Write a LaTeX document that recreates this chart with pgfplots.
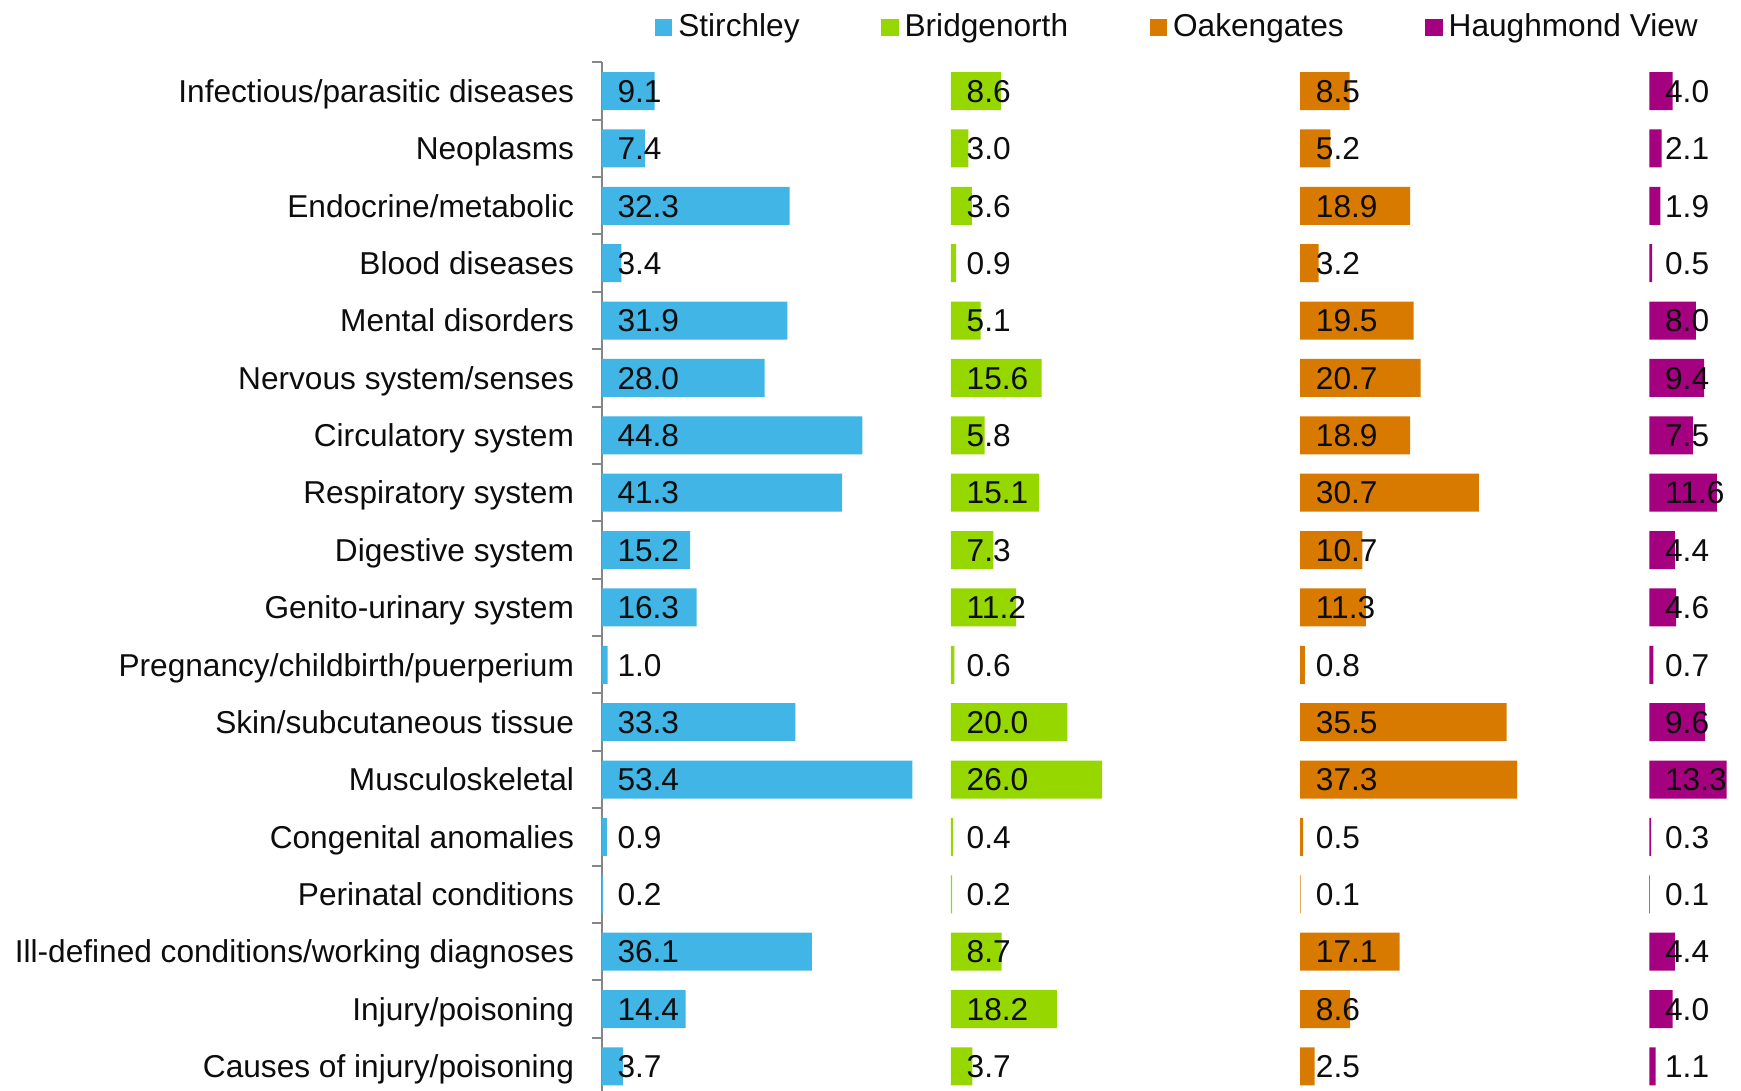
\documentclass[border=0pt]{standalone}
\usepackage{fontspec}
\setmainfont{Liberation Sans}
\usepackage{pgfplots}
\usepackage{pgfplotstable}
\pgfplotsset{compat=1.18}

\definecolor{stir}{RGB}{65,182,230}
\definecolor{brid}{RGB}{151,215,0}
\definecolor{oake}{RGB}{217,122,0}
\definecolor{haug}{RGB}{165,0,128}
\definecolor{axgray}{RGB}{134,134,134}
\definecolor{txt}{RGB}{13,13,13}

% rows top to bottom: Stirchley, Bridgenorth, Oakengates, Haughmond View
\pgfplotstableread{
y  s     b     o     h
1  9.1   8.6   8.5   4.0
2  7.4   3.0   5.2   2.1
3  32.3  3.6   18.9  1.9
4  3.4   0.9   3.2   0.5
5  31.9  5.1   19.5  8.0
6  28.0  15.6  20.7  9.4
7  44.8  5.8   18.9  7.5
8  41.3  15.1  30.7  11.6
9  15.2  7.3   10.7  4.4
10 16.3  11.2  11.3  4.6
11 1.0   0.6   0.8   0.7
12 33.3  20.0  35.5  9.6
13 53.4  26.0  37.3  13.3
14 0.9   0.4   0.5   0.3
15 0.2   0.2   0.1   0.1
16 36.1  8.7   17.1  4.4
17 14.4  18.2  8.6   4.0
18 3.7   3.7   2.5   1.1
}\data

\pgfplotsset{
  base/.style={
    scale only axis, width=113.93mm, height=103.28mm,
    at={(0,0)}, anchor=south west,
    ymin=0.5, ymax=18.5, y dir=reverse, clip=false,
    bar width=3.8mm,
  },
  bars/.style={xbar, bar shift=0pt, draw=none, fill=#1, forget plot},
  vals/.style={draw=none, mark=none, forget plot, nodes near coords,
    point meta=explicit symbolic,
    every node near coord/.style={anchor=base west, inner sep=0pt,
      yshift=-3.2pt, text=txt}},
}

\begin{document}
\fontsize{9}{11}\selectfont
\begin{tikzpicture}
\useasboundingbox (-60.17mm,0.51mm) rectangle (113.93mm,109.51mm);

\begin{axis}[base, xmin=0, xmax=195.76,
  axis x line=none, axis y line*=left,
  axis line style={draw=axgray, line width=0.2mm},
  ytick={1,...,18}, major tick length=0pt,
  minor ytick={0.5,1.5,...,18.5}, minor tick length=0.94mm,
  tick align=outside,
  minor tick style={draw=axgray, line width=0.2mm},
  yticklabel style={anchor=base east, inner sep=0pt, xshift=-2.7mm,
    yshift=-3.2pt, text=txt},
  yticklabels={{Infectious/parasitic diseases},{Neoplasms},{Endocrine/metabolic},{Blood diseases},{Mental disorders},{Nervous system/senses},{Circulatory system},{Respiratory system},{Digestive system},{Genito-urinary system},{Pregnancy/childbirth/puerperium},{Skin/subcutaneous tissue},{Musculoskeletal},{Congenital anomalies},{Perinatal conditions},{Ill-defined conditions/working diagnoses},{Injury/poisoning},{Causes of injury/poisoning}},
  legend columns=4,
  legend style={at={(0.046,1.0338)}, anchor=west, draw=none, fill=none,
    inner sep=0pt, text=txt,
    nodes={inner xsep=0.6mm, inner ysep=0.5mm},
    /tikz/every even column/.append style={column sep=7.55mm}},
  legend cell align=left,
  legend image code/.code={\fill[#1, draw=none] (0mm,-0.875mm) rectangle (1.75mm,0.875mm);},
]
\addlegendimage{draw=none, fill=stir}\addlegendentry{Stirchley}
\addlegendimage{draw=none, fill=brid}\addlegendentry{Bridgenorth}
\addlegendimage{draw=none, fill=oake}\addlegendentry{Oakengates}
\addlegendimage{draw=none, fill=haug}\addlegendentry{Haughmond View}
\addplot[bars=stir] table[x=s, y=y] {\data};
\addplot[vals] table[x expr=2.6, y=y, meta=s] {\data};
\end{axis}

\begin{axis}[base, xmin=-60, xmax=135.76, hide axis]
\addplot[bars=brid] table[x=b, y=y] {\data};
\addplot[vals] table[x expr=2.6, y=y, meta=b] {\data};
\end{axis}

\begin{axis}[base, xmin=-120, xmax=75.76, hide axis]
\addplot[bars=oake] table[x=o, y=y] {\data};
\addplot[vals] table[x expr=2.6, y=y, meta=o] {\data};
\end{axis}

\begin{axis}[base, xmin=-180, xmax=15.76, hide axis]
\addplot[bars=haug] table[x=h, y=y] {\data};
\addplot[vals] table[x expr=2.6, y=y, meta=h] {\data};
\end{axis}
\end{tikzpicture}
\end{document}
